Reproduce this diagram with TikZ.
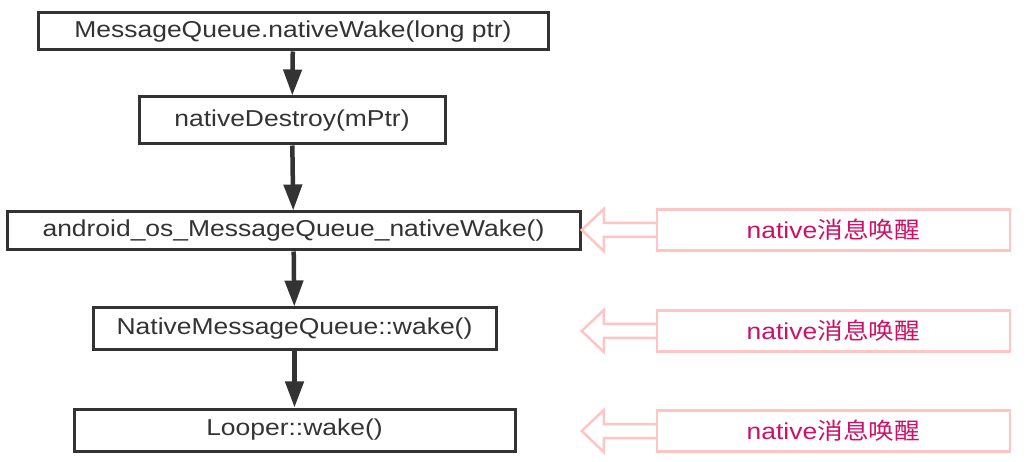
\documentclass[tikz,border=0pt]{standalone}
\usepackage{fontspec}
\setmainfont{Liberation Sans}[FakeStretch=1.15]
\newfontfamily\cjk{Noto Sans CJK SC}[FakeStretch=1.12]
\usetikzlibrary{arrows.meta}

\definecolor{boxgray}{HTML}{333333}
\definecolor{notepink}{HTML}{FFC4C4}
\definecolor{notetext}{HTML}{CC1166}

\tikzset{
	callbox/.style={draw=boxgray, line width=3pt, text=boxgray, inner sep=0pt, font=\fontsize{23}{27}\selectfont},
	notebox/.style={draw=notepink, line width=2.5pt, text=notetext, inner sep=0pt, minimum width=353pt, minimum height=41pt, font=\fontsize{23}{27}\selectfont},
	hollow/.style={draw=notepink, line width=2.5pt, line join=miter, fill=white},
}

\begin{document}
\begin{tikzpicture}[x=1pt, y=-1pt, -{Triangle[length=26pt,width=18pt]}, line width=4.5pt, draw=boxgray]
	\useasboundingbox (0,0) rectangle (1034,462);

	\node[callbox, minimum width=510pt, minimum height=37pt] (nw) at (293,31.5) {MessageQueue.nativeWake(long ptr)};
	\node[callbox, minimum width=306pt, minimum height=47pt] (nd) at (292,120.5) {nativeDestroy(mPtr)};
	\node[callbox, minimum width=573pt, minimum height=38pt] (aw) at (293.5,231) {android\_os\_MessageQueue\_nativeWake()};
	\node[callbox, minimum width=403pt, minimum height=42pt] (qw) at (294.5,329) {NativeMessageQueue::wake()};
	\node[callbox, minimum width=441pt, minimum height=42pt] (lw) at (294.5,430) {Looper::wake()};

	\node[notebox] (n1) at (833.5,230) {native\cjk{消息唤醒}};
	\node[notebox] (n2) at (833.5,331) {native\cjk{消息唤醒}};
	\node[notebox] (n3) at (833.5,431) {native\cjk{消息唤醒}};

	\draw[boxgray] (nw) -- (nd);
	\draw[boxgray] (nd) -- (aw);
	\draw[boxgray] (aw) -- (qw);
	\draw[boxgray] (qw) -- (lw);

	% hollow pointers from the notes
	\draw[hollow, -] (n1.west) ++(0,-7) -- ++(-52,0) -- ++(0,-14) -- ++(-22,21) -- ++(22,21) -- ++(0,-14) -- ++(52,0);
	\draw[hollow, -] (n2.west) ++(0,-7) -- ++(-52,0) -- ++(0,-14) -- ++(-22,21) -- ++(22,21) -- ++(0,-14) -- ++(52,0);
	\draw[hollow, -] (n3.west) ++(0,-7) -- ++(-52,0) -- ++(0,-14) -- ++(-22,21) -- ++(22,21) -- ++(0,-14) -- ++(52,0);
\end{tikzpicture}
\end{document}
